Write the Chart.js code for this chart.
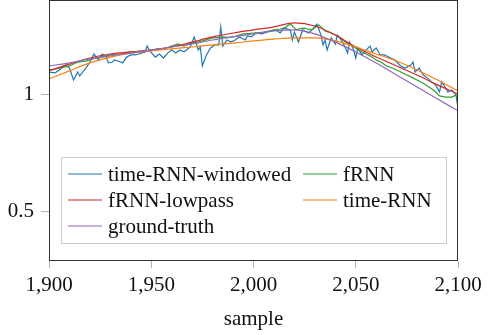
<!DOCTYPE html>
<html>
<head>
<meta charset="utf-8">
<script src="https://cdn.jsdelivr.net/npm/chart.js@4"></script>
<style>
  html, body { margin: 0; padding: 0; background: #fff; }
  #wrap { width: 489px; height: 335px; }
</style>
</head>
<body>
<div id="wrap"><canvas id="chart"></canvas></div>
<script>
const xTicks = [1900, 1950, 2000, 2050, 2100];
const yTicks = [0.5, 1];

const blueSamples = [1900,1903,1905,1908,1910,1912,1914,1915,1918,1920,1922,1924,1926,1928,1929,1931,1932,1935,1936,1938,
  1940,1942,1944,1947,1948,1949,1952,1954,1956,1958,1960,1962,1964,1966,1969,1971,1973,1974,1975,1977,
  1979,1981,1983,1984,1985,1987,1989,1991,1993,1996,1997,1999,2001,2004,2007,2011,2013,2015,2018,2019,
  2020,2022,2024,2027,2029,2031,2033,2034,2035,2036,2038,2040,2041,2043,2045,2046,2047,2049,2050,2051,
  2053,2055,2057,2058,2060,2062,2064,2067,2069,2072,2074,2077,2078,2079,2081,2083,2085,2087,2089,2091,
  2092,2094,2095,2097,2099,2100];
const blueValues = [1.098,1.094,1.107,1.128,1.115,1.064,1.098,1.081,1.115,1.141,1.175,1.150,1.175,1.162,1.137,1.141,1.150,1.141,1.137,1.162,
  1.171,1.171,1.175,1.184,1.209,1.192,1.162,1.175,1.158,1.179,1.192,1.179,1.192,1.184,1.205,1.248,1.192,1.205,1.124,1.171,
  1.201,1.214,1.214,1.291,1.209,1.235,1.226,1.235,1.248,1.235,1.252,1.248,1.265,1.261,1.269,1.278,1.265,1.286,1.278,1.235,
  1.269,1.226,1.278,1.265,1.282,1.303,1.256,1.214,1.235,1.192,1.244,1.218,1.256,1.235,1.201,1.179,1.226,1.192,1.158,1.201,
  1.171,1.192,1.209,1.184,1.201,1.171,1.171,1.158,1.150,1.124,1.115,1.128,1.141,1.098,1.115,1.085,1.073,1.056,1.043,1.013,
  1.056,1.030,1.013,1.021,1.000,0.944];

const greenSamples = [1900,1903,1905,1908,1910,1913,1915,1918,1920,1923,1925,1928,1930,1933,1935,1938,1940,1943,1945,1948,
  1950,1953,1955,1958,1960,1963,1966,1968,1970,1973,1975,1978,1980,1983,1985,1988,1990,1993,1995,1998,
  2000,2003,2005,2008,2010,2013,2015,2018,2021,2023,2025,2027,2029,2032,2035,2038,2040,2043,2045,2048,
  2050,2053,2055,2058,2060,2063,2065,2068,2070,2073,2075,2078,2080,2083,2085,2088,2091,2094,2097,2099,2100];
const greenValues = [1.107,1.111,1.115,1.120,1.124,1.137,1.141,1.145,1.150,1.158,1.162,1.167,1.171,1.175,1.175,1.180,1.184,1.186,1.188,1.190,
  1.192,1.197,1.197,1.203,1.209,1.218,1.209,1.218,1.222,1.226,1.231,1.239,1.244,1.246,1.248,1.246,1.248,1.256,1.261,1.263,
  1.265,1.267,1.269,1.274,1.278,1.282,1.286,1.303,1.278,1.284,1.286,1.280,1.282,1.299,1.274,1.265,1.256,1.239,1.226,1.210,
  1.201,1.184,1.175,1.162,1.150,1.137,1.124,1.115,1.107,1.094,1.085,1.073,1.064,1.050,1.038,1.021,0.996,0.991,0.991,1.000,0.979];

const smoothSamples = [1900,1910,1920,1930,1940,1950,1960,1970,1980,1990,2000,2010,2020,2030,2040,2050,2060,2070,2080,2090,2100];
const redValues = [1.103,1.132,1.158,1.175,1.184,1.192,1.205,1.226,1.248,1.265,1.278,1.291,1.308,1.295,1.256,1.205,1.162,1.124,1.085,1.043,1.004];
const orangeValues = [1.068,1.103,1.137,1.162,1.179,1.188,1.197,1.205,1.214,1.222,1.231,1.239,1.244,1.244,1.231,1.205,1.175,1.145,1.107,1.064,1.017];
const purpleValues = [1.124,1.137,1.154,1.167,1.179,1.192,1.205,1.218,1.235,1.248,1.261,1.274,1.278,1.261,1.226,1.184,1.137,1.085,1.034,0.983,0.932];

const FONT = '"Liberation Serif", "Times New Roman", serif';

function pts(xs, ys) {
  return xs.map((x, i) => ({ x, y: ys[i] }));
}

function series(label, color, xs, ys, order, smooth) {
  return {
    label,
    data: pts(xs, ys),
    borderColor: color,
    backgroundColor: color,
    borderWidth: 1.2,
    pointRadius: 0,
    fill: false,
    order,
    cubicInterpolationMode: smooth ? 'monotone' : 'default',
    tension: 0,
  };
}

const frameAndLegend = {
  id: 'frameAndLegend',
  afterDatasetsDraw(chart) {
    const { ctx, chartArea: a } = chart;
    ctx.save();
    ctx.strokeStyle = '#333';
    ctx.lineWidth = 1;
    ctx.strokeRect(a.left + 0.5, a.top + 0.5, a.right - a.left - 1, a.bottom - a.top - 1);

    // legend box inside the plot, two columns
    ctx.fillStyle = '#fff';
    ctx.fillRect(61, 157, 385, 86);
    ctx.strokeStyle = '#cccccc';
    ctx.strokeRect(61.5, 157.5, 385, 86);
    const cols = [68, 303];
    const rows = [174, 200, 226];
    ctx.font = '21px ' + FONT;
    ctx.textBaseline = 'middle';
    chart.data.datasets.forEach((ds, i) => {
      const x = cols[i % 2];
      const y = rows[Math.floor(i / 2)];
      ctx.strokeStyle = ds.borderColor;
      ctx.lineWidth = 1.2;
      ctx.beginPath();
      ctx.moveTo(x, y);
      ctx.lineTo(x + 34, y);
      ctx.stroke();
      ctx.fillStyle = '#111';
      ctx.fillText(ds.label, x + 40, y + 1);
    });
    ctx.restore();
  },
};

new Chart(document.getElementById('chart'), {
  type: 'line',
  data: {
    datasets: [
      series('time-RNN-windowed', '#1f77b4', blueSamples, blueValues, 5, false),
      series('fRNN', '#2ca02c', greenSamples, greenValues, 4, false),
      series('fRNN-lowpass', '#d62728', smoothSamples, redValues, 3, true),
      series('time-RNN', '#ff7f0e', smoothSamples, orangeValues, 2, true),
      series('ground-truth', '#9467bd', smoothSamples, purpleValues, 1, true),
    ],
  },
  options: {
    responsive: true,
    maintainAspectRatio: false,
    animation: false,
    layout: { padding: { top: 0, right: 31, bottom: 0, left: 0 } },
    plugins: {
      legend: { display: false },
      tooltip: { enabled: false },
    },
    scales: {
      x: {
        type: 'linear',
        min: 1900,
        max: 2100,
        afterBuildTicks: (s) => { s.ticks = xTicks.map(v => ({ value: v })); },
        afterFit: (s) => { s.height = 74; s.paddingLeft = 0; s.paddingRight = 0; },
        grid: { display: true, drawOnChartArea: false, drawTicks: true, tickLength: 7, color: '#b5b5b5' },
        border: { display: false },
        ticks: {
          color: '#111',
          padding: 5,
          maxRotation: 0,
          font: { family: FONT, size: 21 },
          callback: (v) => v.toLocaleString('en-US'),
        },
        title: {
          display: true,
          text: 'sample',
          color: '#111',
          font: { family: FONT, size: 21 },
          padding: { top: 0, bottom: 3 },
        },
      },
      y: {
        type: 'linear',
        min: 0.29,
        max: 1.406,
        afterBuildTicks: (s) => { s.ticks = yTicks.map(v => ({ value: v })); },
        afterFit: (s) => { s.width = 49; s.paddingTop = 0; s.paddingBottom = 0; },
        grid: { display: true, drawOnChartArea: false, drawTicks: true, tickLength: 8, color: '#b5b5b5' },
        border: { display: false },
        ticks: {
          color: '#111',
          padding: 7,
          font: { family: FONT, size: 21 },
          callback: (v) => String(v),
        },
      },
    },
  },
  plugins: [frameAndLegend],
});
</script>
</body>
</html>
